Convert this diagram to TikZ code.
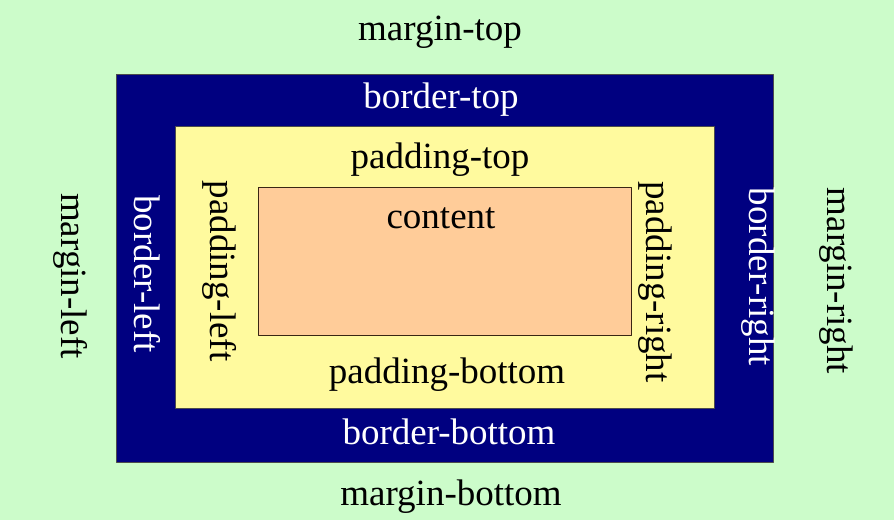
\documentclass[tikz,border=0pt]{standalone}
\usepackage{fontspec}
\setmainfont{Liberation Serif}
\definecolor{marginc}{HTML}{CCFCCA}
\definecolor{borderc}{HTML}{000080}
\definecolor{paddingc}{HTML}{FFFA9E}
\definecolor{contentc}{HTML}{FFCC99}
\begin{document}
\begin{tikzpicture}[x=0.5pt,y=-0.5pt,font=\fontsize{18.5}{22}\selectfont, line join=round, line cap=round]
	\fill[marginc] (0,0) rectangle (894,520);
	\draw[black!70,fill=borderc] (116,74) rectangle (773,462);
	\draw[black!70,fill=paddingc] (175,126) rectangle (714,408);
	\draw[black!70!brown,fill=contentc] (258,187) rectangle (631,335);
	% top and bottom
	\node (mt) at (440,32) {margin-top};
	\node[white] (bt) at (441,100) {border-top};
	\node (pt) at (440,160) {padding-top};
	\node (ct) at (441,218) {content};
	\node (pb) at (447,375) {padding-bottom};
	\node[white] (bb) at (449,432) {border-bottom};
	\node (mb) at (451,497) {margin-bottom};
	% left and right
	\node[rotate=-90] (ml) at (71,276) {margin-left};
	\node[rotate=-90,white] (bl) at (147,274) {border-left};
	\node[rotate=-90] (pl) at (220,271) {padding-left};
	\node[rotate=-90] (pr) at (655,282) {padding-right};
	\node[rotate=-90,white] (br) at (758,277) {border-right};
	\node[rotate=-90] (mr) at (836,281) {margin-right};
\end{tikzpicture}
\end{document}
